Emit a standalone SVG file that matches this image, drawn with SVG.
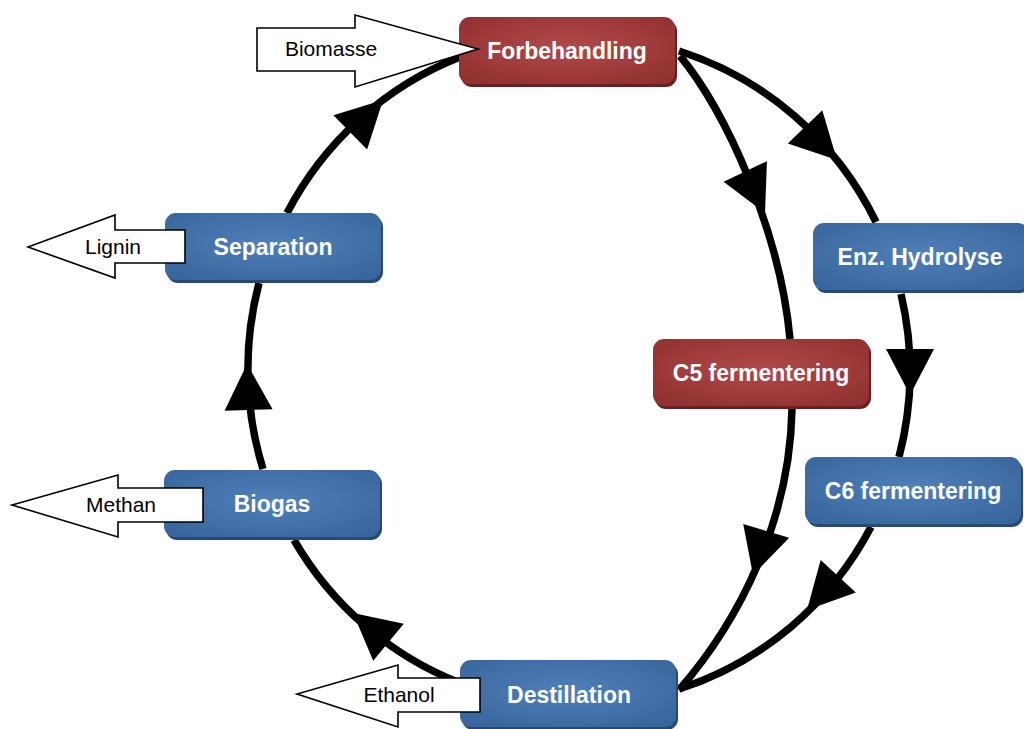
<svg xmlns="http://www.w3.org/2000/svg" xmlns:xlink="http://www.w3.org/1999/xlink" width="1024" height="729" viewBox="0 0 1024 729">
  <defs>
    <radialGradient id="gBlue" cx="50%" cy="45%" r="65%">
      <stop offset="0" stop-color="#5080b9"/>
      <stop offset="1" stop-color="#39669c"/>
    </radialGradient>
    <radialGradient id="gRed" cx="50%" cy="45%" r="65%">
      <stop offset="0" stop-color="#b04a4a"/>
      <stop offset="1" stop-color="#923131"/>
    </radialGradient>
    <path id="ah" d="M0,0 L-46,-24 L-46,24 Z"/>
    <style>
      .conn { fill: none; stroke: #000; stroke-width: 7.5; }
      .head { fill: #000; }
      .bshadow { fill: #264a74; }
      .rshadow { fill: #6a2020; }
      .bbox { fill: url(#gBlue); }
      .rbox { fill: url(#gRed); }
      .lbl { font-family: "Liberation Sans", Arial, sans-serif; font-weight: bold; font-size: 23px; fill: #ffffff; text-anchor: middle; }
      .blk { fill: #ffffff; stroke: #000; stroke-width: 1.6; stroke-linejoin: miter; }
      .out { font-family: "Liberation Sans", Arial, sans-serif; font-size: 21px; fill: #000; text-anchor: middle; }
    </style>
  </defs>
  <rect width="1024" height="729" fill="#ffffff"/>

  <g id="connectors">
    <path class="conn" d="M679,51 A331,335 0 0 1 876,222"/>
    <path class="conn" d="M901,294 A331,335 0 0 1 899,457"/>
    <path class="conn" d="M871,527 A331,335 0 0 1 679,689"/>
    <path class="conn" d="M460,683 A331,335 0 0 1 294,540"/>
    <path class="conn" d="M263,469 A331,335 0 0 1 259,283"/>
    <path class="conn" d="M287,213 A331,335 0 0 1 460,57"/>
    <path class="conn" d="M680,56 C725,110 780,230 790,339"/>
    <path class="conn" d="M792,409 C790,520 740,620 679,690"/>
    <use class="head" xlink:href="#ah" transform="translate(837,160) rotate(46)"/>
    <use class="head" xlink:href="#ah" transform="translate(910,395) rotate(90)"/>
    <use class="head" xlink:href="#ah" transform="translate(807,610) rotate(132.8)"/>
    <use class="head" xlink:href="#ah" transform="translate(353,613) rotate(-140.5)"/>
    <use class="head" xlink:href="#ah" transform="translate(247,364) rotate(-92)"/>
    <use class="head" xlink:href="#ah" transform="translate(383,100) rotate(-44.6)"/>
    <use class="head" xlink:href="#ah" transform="translate(765,213) rotate(64.6)"/>
    <use class="head" xlink:href="#ah" transform="translate(753,575) rotate(106.7)"/>
  </g>

  <g id="node-forbehandling">
    <rect class="rshadow" x="461" y="20" width="216" height="67" rx="11"/>
    <rect class="rbox" x="459" y="17" width="216" height="67" rx="11"/>
    <text class="lbl" x="567" y="59">Forbehandling</text>
  </g>
  <g id="node-enz-hydrolyse">
    <rect class="bshadow" x="815" y="226" width="216" height="67" rx="11"/>
    <rect class="bbox" x="813" y="223" width="216" height="67" rx="11"/>
    <text class="lbl" x="920" y="265">Enz. Hydrolyse</text>
  </g>
  <g id="node-c5">
    <rect class="rshadow" x="655" y="342" width="216" height="67" rx="11"/>
    <rect class="rbox" x="653" y="339" width="216" height="67" rx="11"/>
    <text class="lbl" x="761" y="381">C5 fermentering</text>
  </g>
  <g id="node-c6">
    <rect class="bshadow" x="807" y="460" width="216" height="67" rx="11"/>
    <rect class="bbox" x="805" y="457" width="216" height="67" rx="11"/>
    <text class="lbl" x="913" y="499">C6 fermentering</text>
  </g>
  <g id="node-destillation">
    <rect class="bshadow" x="462" y="663" width="216" height="67" rx="11"/>
    <rect class="bbox" x="460" y="660" width="216" height="67" rx="11"/>
    <text class="lbl" x="569" y="702.5">Destillation</text>
  </g>
  <g id="node-biogas">
    <rect class="bshadow" x="166" y="473" width="216" height="67" rx="11"/>
    <rect class="bbox" x="164" y="470" width="216" height="67" rx="11"/>
    <text class="lbl" x="272" y="512">Biogas</text>
  </g>
  <g id="node-separation">
    <rect class="bshadow" x="167" y="216" width="216" height="67" rx="11"/>
    <rect class="bbox" x="165" y="213" width="216" height="67" rx="11"/>
    <text class="lbl" x="273" y="255">Separation</text>
  </g>

  <g id="io-biomasse">
    <polygon class="blk" points="257,28 355,28 355,15 478,49 355,87 355,71 257,71"/>
    <text class="out" x="331" y="56">Biomasse</text>
  </g>
  <g id="io-lignin">
    <polygon class="blk" points="185,230 115,230 115,215 28,247 115,278 115,263 185,263"/>
    <text class="out" x="113" y="254">Lignin</text>
  </g>
  <g id="io-methan">
    <polygon class="blk" points="203,488 118,488 118,475 12,505 118,537 118,522 203,522"/>
    <text class="out" x="121" y="512">Methan</text>
  </g>
  <g id="io-ethanol">
    <polygon class="blk" points="480,678 398,678 398,665 297,694 398,727 398,712 480,712"/>
    <text class="out" x="399" y="702">Ethanol</text>
  </g>
</svg>
